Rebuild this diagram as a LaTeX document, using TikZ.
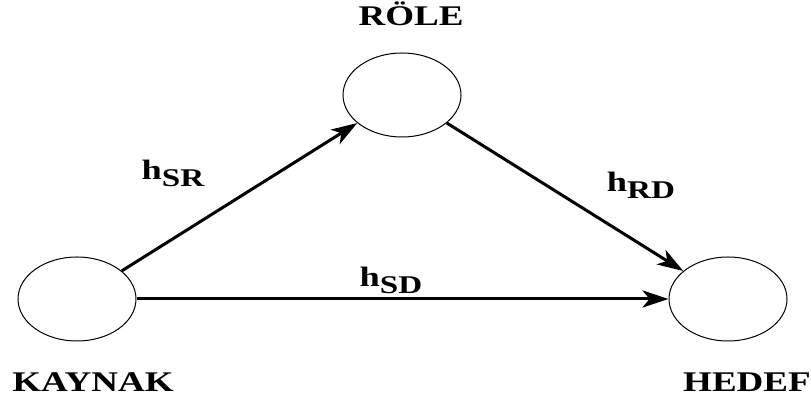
\documentclass[tikz,border=0pt]{standalone}
\usepackage{fontspec}
\setmainfont{Liberation Serif}
\usetikzlibrary{shapes.geometric,arrows.meta}

% stretched lettering
\newcommand{\wide}[1]{\scalebox{1.3}[1]{#1}}
\newcommand{\chan}[2]{\wide{#1\raisebox{-7pt}{\fontsize{25.5}{28}\selectfont #2}}}

\begin{document}
\begin{tikzpicture}
    [x=1pt, y=1pt,
    station/.style={
        draw,
        line width=1pt,
        ellipse,
        inner sep=0pt,
        minimum width=118pt,
        minimum height=84pt
    },
    link/.style={
        draw, line width=3pt, -{Stealth[length=26pt, width=17pt, inset=7pt]}
    },
    tag/.style={anchor=base, font=\bfseries\fontsize{28.5}{30}\selectfont},
    gain/.style={anchor=base, font=\bfseries\fontsize{28}{30}\selectfont}
    ]
    \useasboundingbox (0,0) rectangle (811,406);

    % Stodvar
    \node[station] (kaynak) at (77,107) {};
    \node[station] (role) at (402,311) {};
    \node[station] (hedef) at (728,107) {};

    \node[tag] (kaynakname) at (93,14) {\wide{KAYNAK}};
    \node[tag] (rolename) at (411,380) {\wide{RÖLE}};
    \node[tag] (hedefname) at (747,14) {\wide{HEDEF}};

    % Kanallar
    \path [link] (kaynak) -- (role);
    \path [link] (role) -- (hedef);
    \path [link] (kaynak) -- (hedef);

    \node[gain] (hsr) at (173,226) {\chan{h}{SR}};
    \node[gain] (hrd) at (641,214) {\chan{h}{RD}};
    \node[gain] (hsd) at (391,119) {\chan{h}{SD}};
\end{tikzpicture}
\end{document}
